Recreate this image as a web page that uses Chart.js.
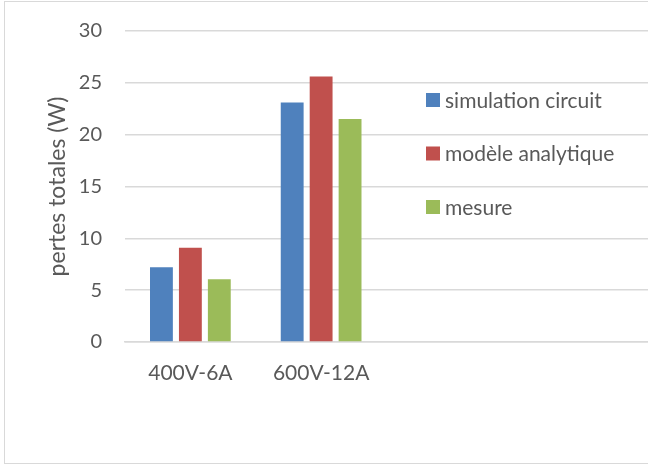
<!DOCTYPE html>
<html>
<head>
<meta charset="utf-8">
<script src="https://cdn.jsdelivr.net/npm/chart.js@4"></script>
<style>
  html, body { margin: 0; padding: 0; background: #fff; overflow: hidden; }
  #wrap { position: relative; width: 648px; height: 465px; }
  #frame { position: absolute; left: 4px; top: 1px; width: 700px; height: 461px; border: 1px solid #d9d9d9; pointer-events: none; }
</style>
</head>
<body>
<div id="wrap">
  <canvas id="lossChart" width="648" height="465"></canvas>
  <div id="frame"></div>
</div>
<script>
const categories = ['400V-6A', '600V-12A', '', ''];
const seriesNames = ['simulation circuit', 'modèle analytique', 'mesure'];
const simulation = [7.2, 23.1, null, null];
const analytique = [9.1, 25.6, null, null];
const mesure = [6.05, 21.5, null, null];
const yTicks = [0, 5, 10, 15, 20, 25, 30];
const yTitle = 'pertes totales (W)';
const colors = ['#4F81BD', '#C0504D', '#9BBB59'];

const FONT = 'Lato, "Open Sans", sans-serif';
const textColor = '#595959';

// legend + axis title drawn by hand, placed like the Excel original
const sideLegend = {
  id: 'sideLegend',
  afterDraw(chart) {
    const ctx = chart.ctx;
    const area = chart.chartArea;
    ctx.save();
    ctx.font = '21px ' + FONT;
    ctx.textBaseline = 'middle';
    chart.data.datasets.forEach((ds, i) => {
      const y = 100 + i * 53.5;
      ctx.fillStyle = ds.backgroundColor;
      ctx.fillRect(426, y - 7, 14, 14);
      ctx.fillStyle = textColor;
      ctx.fillText(ds.label, 445, y + 1);
    });
    ctx.translate(58, (area.top + area.bottom) / 2);
    ctx.rotate(-Math.PI / 2);
    ctx.textAlign = 'center';
    ctx.font = '23px ' + FONT;
    ctx.fillText(yTitle, 0, 0);
    ctx.restore();
  }
};

const config = {
  type: 'bar',
  data: {
    labels: categories,
    datasets: [
      { label: seriesNames[0], data: simulation, backgroundColor: colors[0] },
      { label: seriesNames[1], data: analytique, backgroundColor: colors[1] },
      { label: seriesNames[2], data: mesure, backgroundColor: colors[2] }
    ]
  },
  options: {
    responsive: false,
    animation: false,
    devicePixelRatio: 1,
    layout: { padding: { top: 31, right: 0, bottom: 0, left: 0 } },
    datasets: { bar: { categoryPercentage: 0.664, barPercentage: 0.79 } },
    plugins: { legend: { display: false }, tooltip: { enabled: false } },
    scales: {
      x: {
        grid: { display: false, drawTicks: false },
        border: { display: true, color: '#d9d9d9', width: 1.5 },
        ticks: { color: textColor, font: { family: FONT, size: 21 }, padding: 19, maxRotation: 0 },
        afterFit(scale) { scale.height = 123; }
      },
      y: {
        min: 0,
        max: 30,
        afterBuildTicks(scale) { scale.ticks = yTicks.map(v => ({ value: v })); },
        grid: { color: '#d9d9d9', lineWidth: 1.5, drawTicks: false },
        border: { display: false },
        ticks: { color: textColor, font: { family: FONT, size: 20 }, padding: 23 },
        afterFit(scale) { scale.width = 125; scale.paddingTop = 0; scale.paddingBottom = 0; }
      }
    }
  },
  plugins: [sideLegend]
};

window.onload = function() {
  const ctx = document.getElementById('lossChart').getContext('2d');
  new Chart(ctx, config);
};
</script>
</body>
</html>
